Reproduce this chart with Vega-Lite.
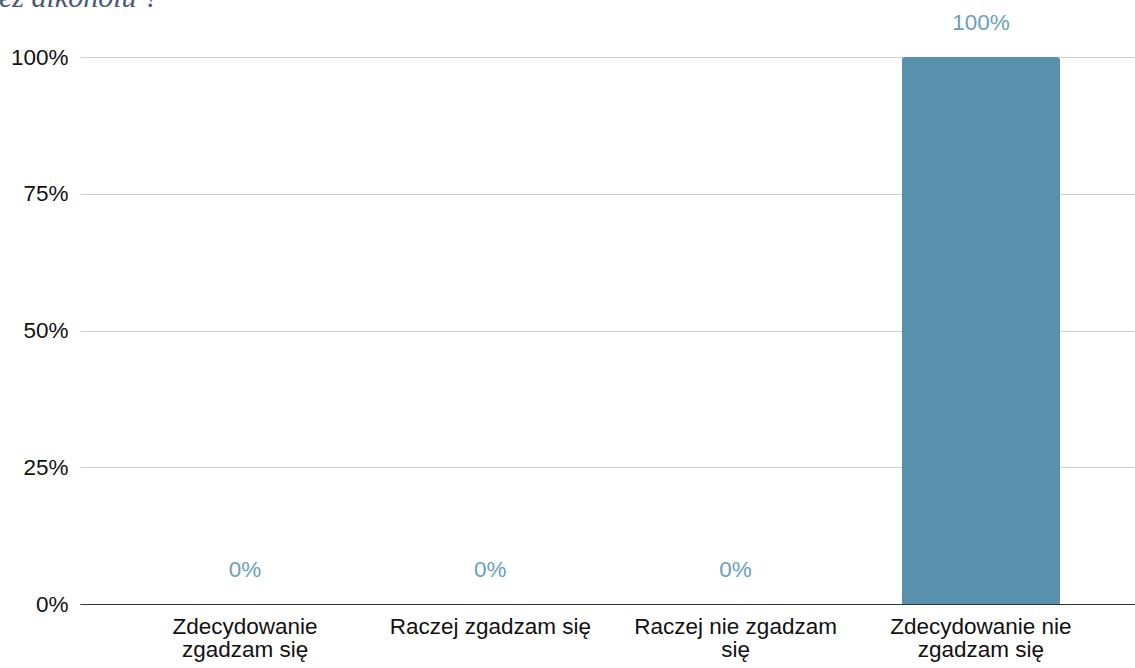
{
  "$schema": "https://vega.github.io/schema/vega-lite/v6.json",
  "width": 1055,
  "height": 595,
  "autosize": {"type": "none"},
  "padding": {"left": 80, "top": 9, "right": 0, "bottom": 64},
  "background": "white",
  "title": {
    "text": "bez alkoholu ?",
    "anchor": "start",
    "frame": "group",
    "orient": "none",
    "offset": 0,
    "dx": -96,
    "dy": -2,
    "font": "Liberation Serif",
    "fontStyle": "italic",
    "fontWeight": "normal",
    "fontSize": 30,
    "color": "#4a5870",
    "baseline": "alphabetic"
  },
  "config": {
    "font": "Liberation Sans",
    "view": {"stroke": null}
  },
  "data": {
    "values": [
      {"odp": "Zdecydowanie zgadzam się", "pct": 0},
      {"odp": "Raczej zgadzam się", "pct": 0},
      {"odp": "Raczej nie zgadzam się", "pct": 0},
      {"odp": "Zdecydowanie nie zgadzam się", "pct": 1}
    ]
  },
  "encoding": {
    "x": {
      "field": "odp",
      "type": "nominal",
      "sort": null,
      "scale": {"paddingInner": 0.355, "paddingOuter": 0.328, "align": 0.534},
      "axis": {
        "title": null,
        "labelAngle": 0,
        "labelFontSize": 22.5,
        "labelColor": "#111111",
        "labelPadding": 11,
        "labelLineHeight": 23,
        "labelLimit": 400,
        "ticks": false,
        "domain": true,
        "domainColor": "#333333",
        "domainWidth": 1.2,
        "labelExpr": "datum.label == 'Zdecydowanie zgadzam się' ? ['Zdecydowanie', 'zgadzam się'] : datum.label == 'Raczej nie zgadzam się' ? ['Raczej nie zgadzam', 'się'] : datum.label == 'Zdecydowanie nie zgadzam się' ? ['Zdecydowanie nie', 'zgadzam się'] : datum.label"
      }
    },
    "y": {
      "field": "pct",
      "type": "quantitative",
      "scale": {"domain": [0, 1.0878], "nice": false},
      "axis": {
        "title": null,
        "values": [0, 0.25, 0.5, 0.75, 1],
        "format": ".0%",
        "labelFontSize": 22.5,
        "labelColor": "#111111",
        "labelPadding": 12,
        "ticks": false,
        "domain": false,
        "gridColor": "#cfcfcf",
        "gridWidth": 1.2
      }
    }
  },
  "layer": [
    {
      "mark": {"type": "bar", "color": "#5990ae", "cornerRadiusTopLeft": 3, "cornerRadiusTopRight": 3}
    },
    {
      "mark": {"type": "text", "color": "#6a9ec0", "fontSize": 22.5, "baseline": "alphabetic", "dy": -27},
      "encoding": {"text": {"field": "pct", "type": "quantitative", "format": ".0%"}}
    }
  ]
}
